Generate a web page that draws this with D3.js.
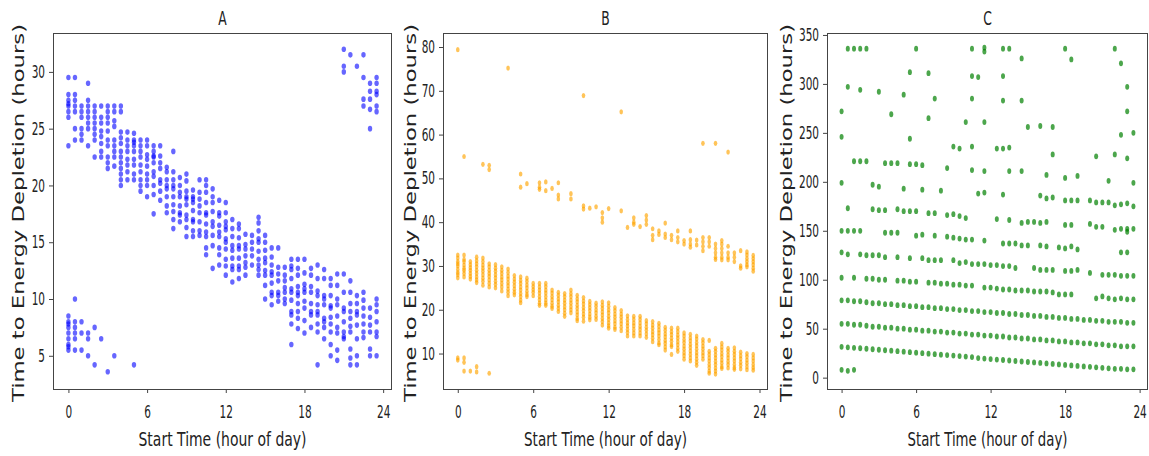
<!DOCTYPE html>
<html>
<head>
<meta charset="utf-8">
<script src="https://cdn.jsdelivr.net/npm/d3@7"></script>
<style>
  body { margin: 0; background: #fff; }
  svg { display: block; }
  text { font-family: "DejaVu Sans", sans-serif; fill: #222; }
</style>
</head>
<body>
<svg id="chart" width="1149" height="456"></svg>
<script>
// start hour of each column of points (half-hour slots)
const startHours = [0, 0.5, 1, 1.5, 2, 2.5, 3, 3.5, 4, 4.5, 5, 5.5, 6, 6.5, 7, 7.5,
    8, 8.5, 9, 9.5, 10, 10.5, 11, 11.5, 12, 12.5, 13, 13.5, 14, 14.5, 15, 15.5,
    16, 16.5, 17, 17.5, 18, 18.5, 19, 19.5, 20, 20.5, 21, 21.5, 22, 22.5, 23, 23.5];

const hourTicks = [0, 6, 12, 18, 24];
const ticksA = [5, 10, 15, 20, 25, 30];
const ticksB = [10, 20, 30, 40, 50, 60, 70, 80];
const ticksC = [0, 50, 100, 150, 200, 250, 300, 350];
const titles = ["A", "B", "C"];

// time to energy depletion (hours), one list per start-hour column
const depletionA = [
    [29.5, 28, 27.5, 27.2, 27, 26.5, 26, 23.5, 8.5, 8, 7.8, 7.5, 7, 6.5, 6, 5.8, 5.5],
    [29.5, 28, 27.5, 27, 26.5, 25, 24, 10, 8, 7.5, 7, 6.5, 5.5],
    [27, 26.5, 26, 25, 24.5, 24, 8, 7, 5.5],
    [29, 27.5, 27, 26.5, 26, 25.5, 25, 23.5, 7, 6.5, 5],
    [27, 26.5, 26, 25.5, 25, 24.5, 24, 22.5, 7.5, 4.2],
    [27, 26, 25.5, 24.8, 24.3, 23.7, 23, 22.5, 6.5],
    [27, 26.5, 26, 25.5, 24.8, 24, 23.5, 22.5, 22, 21.5, 3.6],
    [27, 26.5, 25.7, 25.2, 24, 23.5, 23, 22.5, 21.7, 5],
    [27, 26.5, 24.7, 24.2, 23.7, 23, 22.5, 22, 21.5, 21, 20.5, 20],
    [24.7, 24, 23.5, 23, 22.3, 21.8, 21.2, 20.5],
    [24.6, 24, 23.8, 23.5, 23, 22.3, 21.8, 21, 20.5, 4.2],
    [24, 23.5, 23, 22.5, 21.8, 21.2, 20.5, 20, 19.5],
    [24, 23.5, 22.7, 22.3, 21.7, 21, 20.5, 20, 19],
    [23.5, 23, 22.6, 22.5, 22, 21.2, 20.8, 20, 19.2, 17.5],
    [23.5, 22.6, 22, 21.5, 20.5, 20.2, 19.5, 18.7],
    [21.6, 21.2, 20.5, 20, 19.7, 19, 18.2, 17.6],
    [23, 21.2, 20.5, 20, 19.7, 19, 18.3, 17.7, 17, 16.2],
    [20.7, 20, 19.4, 19, 18.2, 17.6, 17.4, 16.8],
    [21, 20.4, 19.5, 19, 18.8, 18.3, 17.4, 17, 16.3, 15.5],
    [19.6, 19, 18.8, 18.5, 17.8, 17, 16.8, 16, 15.5],
    [20.5, 19.4, 18.8, 18.2, 17.6, 16.8, 16, 15.6],
    [20.5, 20, 19.4, 18.5, 17.6, 17.4, 16.6, 15.9, 15.5, 14.5, 13.9],
    [19.7, 19, 18.5, 17.7, 16.8, 16.4, 15.6, 14.7, 12.7],
    [18.7, 17.6, 17.3, 16.5, 15.9, 15.5, 14.5, 13.9, 13],
    [18.5, 17.6, 16.8, 16.4, 16.1, 15.3, 15, 14.4, 13.5, 12.9, 12.1],
    [17, 16.2, 15.5, 14.7, 14.3, 13.6, 12.9, 12.6, 11.5],
    [16.6, 16.2, 15.4, 14.7, 14.4, 13.6, 12.9, 12.6, 11.8],
    [15.7, 14.8, 14.4, 13.8, 13.2, 12.8, 12.1],
    [15.6, 15, 14.4, 13.8, 13],
    [17.2, 16.7, 16, 15.3, 15, 14.2, 13.5, 13, 12.6, 12.1],
    [15.6, 15, 14.3, 13.6, 13.2, 12.5, 12.1, 11.2, 10],
    [14.5, 13.7, 13, 12.4, 12.1, 11.4, 10.6, 10.3, 9.5],
    [14.5, 12.8, 12.2, 11.6, 10.6, 10.3, 9.8],
    [12.8, 12.1, 11.6, 11, 10.6, 10, 9.6],
    [13.5, 12.9, 12.6, 11.8, 10.9, 10.6, 9.9, 8.9, 8.6, 7.8, 6],
    [13.5, 12.7, 12.1, 11.1, 10.6, 10.3, 9.6, 8.9, 8.3, 7.4],
    [13.5, 12.3, 11.3, 10.9, 10.6, 9.8, 9.2, 8.1, 7],
    [12.7, 12.1, 11.1, 10.6, 9.6, 8.9, 8.6, 7.5],
    [13, 11.8, 10.7, 10.3, 9.5, 8.9, 8.6, 7.8, 7.1, 4.2],
    [12.6, 11.8, 10.3, 10, 9.5, 8.3, 8, 7.5, 6.5],
    [11.8, 11.2, 10.3, 9.4, 9.2, 8.4, 7.8, 7.1, 6, 5],
    [12.2, 11.2, 10, 9.5, 8.5, 7.5, 7, 5.5, 4.6],
    [32, 30.5, 30, 12.2, 10.6, 9.2, 8.9, 8, 7.1, 6.7, 6.5],
    [31.5, 11.6, 10.6, 9.6, 8.9, 8.3, 7.6, 7.1, 5.6, 4.8, 4.2],
    [30.5, 10.3, 9.6, 8.9, 8.6, 7.7, 6.5, 5, 4.2],
    [31.5, 29.5, 27.6, 27, 10.6, 9.9, 9.2, 8.5, 7.8, 7.1, 6.6],
    [29, 28.3, 27.6, 26.7, 25, 9.2, 8.4, 7.7, 7.1, 5.6, 5],
    [29.5, 29, 28.3, 28, 27, 26.5, 10, 9.5, 8.9, 8, 7.1, 6.7, 5]
];

const depletionB = [
    [32.5, 31.8, 31, 30.5, 30, 29.2, 28.5, 28, 27.3, 79.4, 9, 8.5],
    [32.5, 31.5, 31, 30.2, 29.5, 29, 28.3, 27.5, 55, 9, 8, 6],
    [31, 30.3, 29.6, 29, 28.3, 27.6, 27, 6],
    [32, 31.2, 30.5, 29.8, 29, 28.3, 27.5, 26.8, 26.2, 7, 5.8],
    [31.8, 31, 30.2, 29.5, 28.8, 28, 27.2, 26.5, 25.6, 53.2],
    [30.5, 29.8, 29, 28.3, 27.6, 26.8, 26, 25.2, 53, 52, 5.5],
    [30.3, 29.5, 28.8, 28, 27.3, 26.5, 25.8, 25],
    [29.8, 29, 28.3, 27.5, 26.8, 26, 25.2, 24.3],
    [29.3, 28.5, 27.7, 27, 26.2, 25.5, 24.7, 24, 23.2, 75.2],
    [27.8, 27, 26.3, 25.5, 24.7, 24, 23.4],
    [27.5, 26.7, 26, 25.2, 24.5, 23.7, 23, 22.2, 21.6, 51, 48],
    [27.2, 26.5, 25.7, 25, 24.2, 23.5, 23, 48.8],
    [26, 25.3, 24.6, 24, 23.2],
    [26, 25.2, 24.5, 23.8, 23, 22.3, 21.5, 21, 49, 48, 47.5],
    [26, 25.3, 24.5, 23.8, 23, 22.2, 21.5, 21, 49.2, 47.2],
    [24.5, 23.8, 23, 22.3, 21.5, 20.8, 20.3, 47.7],
    [24, 23.3, 22.5, 21.8, 21, 20.3, 19.6, 49, 46.2, 45.3],
    [23.7, 23, 22.2, 21.5, 20.7, 20, 19.2, 18.5],
    [24.5, 23.7, 23, 22.2, 21.5, 20.7, 20, 19.3, 46.5, 45.3],
    [23.3, 22.5, 21.8, 21, 20.3, 19.5, 18.8, 18, 17.5],
    [22.8, 22, 21.3, 20.5, 19.8, 19, 18.3, 17.4, 68.9, 43.7, 43],
    [21.9, 21.2, 20.5, 19.8, 19, 18.3, 17.7, 43.2],
    [21.5, 20.8, 20, 19.3, 18.5, 17.8, 43.5],
    [21.8, 21, 20.3, 19.5, 18.8, 18, 17.3, 16.5, 42.2, 41, 40],
    [21.6, 20.8, 20, 19.3, 18.5, 17.8, 17, 16.3, 15.8, 43.1],
    [20.5, 19.8, 19, 18.3, 17.5, 16.8, 16, 15.5],
    [19.8, 19, 18.3, 17.5, 16.8, 16, 15.2, 65.2, 42.6],
    [18.6, 17.8, 17, 16.3, 15.5, 14.8, 14, 38.8],
    [18.5, 17.8, 17, 16.3, 15.5, 14.7, 14, 41, 40, 39.5],
    [18.5, 17.8, 17, 16.2, 15.5, 14.7, 14, 39],
    [17.5, 16.8, 16, 15.3, 14.5, 13.7, 41.5, 40.5, 39.5],
    [17.3, 16.5, 15.8, 15, 14.3, 13.5, 12.7, 38.5, 37, 36],
    [16.9, 16.2, 15.4, 14.7, 14, 13.2, 12.4, 12, 38, 37.2],
    [16, 15.3, 14.5, 13.8, 13, 12.3, 11.5, 10.8, 39.8, 37.3, 36.5],
    [15.8, 15, 14.3, 13.5, 12.8, 12, 11.6, 9.8, 37, 36],
    [15.8, 15, 14.2, 13.5, 12.7, 12, 11.2, 10.5, 38, 36.5, 35.5],
    [14.7, 14, 13.2, 12.5, 11.7, 11, 10.2, 9.5, 8.7, 35.8, 35],
    [14.4, 13.6, 12.9, 12.1, 11.4, 10.6, 9.8, 9, 8.3, 38, 36, 35, 34.3],
    [14, 13.3, 12.5, 11.8, 11, 10.2, 9.5, 8.7, 8, 7.3, 35.9, 34.8],
    [13.2, 12.5, 11.7, 11, 10.2, 9.5, 8.7, 58, 36.5, 35.5, 34.5, 33.5],
    [13, 10.5, 9.8, 9, 8.3, 7.5, 6.8, 6, 5.5, 36.5, 35.5, 34.5],
    [11.2, 10.5, 9.7, 9, 8.2, 7.5, 6.7, 6, 5.3, 58, 35, 34, 33, 32, 31.5],
    [12.3, 11.5, 10.8, 10, 9.3, 8.5, 7.8, 7, 6.6, 35.8, 35, 34, 33, 32, 31.4],
    [11.2, 10.5, 9.7, 9, 8.2, 7.5, 6.7, 56, 34.5, 33, 32, 31.4],
    [11.3, 10.5, 9.8, 9, 8.3, 7.5, 6.8, 6.4, 33, 32, 31],
    [10.3, 9.5, 8.8, 8, 7.3, 6.5, 33.5, 30, 29.5],
    [10, 9.3, 8.5, 7.8, 7, 6.3, 33.2, 32.5, 31.7, 31, 30.3, 29.8],
    [9.8, 9, 8.3, 7.5, 6.8, 6.2, 32.4, 31.7, 31, 30.3, 29.5, 28.8]
];

const depletionC = [
    [31.5, 55, 79, 102, 8, 128, 150, 199, 246, 272],
    [31, 55, 79, 7, 126, 150, 173, 297, 336],
    [30.5, 54, 78, 102, 8, 150, 221, 336],
    [30, 54, 78, 126, 150, 221, 294, 336],
    [29.5, 53, 77, 101, 125, 221, 336],
    [29, 52, 76, 101, 125, 172, 197],
    [28.5, 52, 76, 100, 125, 171, 195, 292],
    [28, 51, 75, 100, 123, 148, 171, 219],
    [27.5, 51, 75, 148, 219, 269],
    [27, 50, 74, 99, 123, 148, 172, 219],
    [26.5, 50, 74, 99, 170, 193, 289],
    [26, 49, 73, 98, 122, 170, 218, 244, 312],
    [25.5, 49, 73, 98, 145, 170, 218, 336],
    [25, 48, 72, 122, 146, 192, 217],
    [24.5, 48, 72, 97, 120, 168, 265, 311],
    [24, 47, 71, 97, 120, 145, 168, 285],
    [23.5, 47, 71, 96, 120, 191],
    [23, 46, 70, 96, 144, 166, 214],
    [22.5, 46, 70, 95, 120, 143, 167, 236],
    [22, 45, 69, 95, 117, 142, 165, 234],
    [21.5, 45, 69, 94, 118, 141, 163, 261],
    [21, 44, 68, 94, 116, 141, 212, 236, 285, 308, 336],
    [20, 44, 68, 116, 188, 307],
    [19.5, 43, 67, 92, 116, 140, 189, 211, 261, 333, 337],
    [19, 43, 67, 92, 115],
    [18.5, 42, 66, 91, 115, 162, 234],
    [18, 42, 66, 90, 114, 137, 187, 234, 283, 308, 336],
    [17.5, 41, 65, 90, 114, 137, 161, 211, 235, 336],
    [17, 41, 65, 89, 112, 137],
    [16.5, 40, 64, 89, 135, 158, 211, 283, 326],
    [16, 40, 64, 89, 135, 159, 256],
    [15.5, 39, 63, 88, 112, 159],
    [15, 39, 63, 88, 110, 135, 158, 186, 257],
    [14.5, 38, 62, 88, 110, 134, 159, 183, 207],
    [14, 38, 62, 87, 110, 184, 228, 256],
    [13.5, 37, 61, 85, 133],
    [13, 37, 61, 85, 109, 132, 156, 181, 204, 336],
    [12.5, 36, 60, 85, 109, 134, 156, 181, 325],
    [12, 36, 60, 110, 131, 181, 206],
    [11.5, 35, 59],
    [11, 35, 59, 107, 157, 181],
    [10.5, 34, 58, 81, 154, 179, 226],
    [10, 34, 58, 83, 105, 154, 179],
    [9.5, 33, 57, 81, 105, 179, 201],
    [9, 33, 57, 80, 105, 151, 176, 228, 336],
    [9, 32, 57, 81, 104, 128, 152, 177, 248, 321],
    [8.5, 32, 56, 80, 104, 128, 149, 152, 178, 224, 272, 297],
    [8.5, 32, 56, 80, 104, 152, 175, 199, 250]
];

// layout
const plotTop = 33, plotBottom = 389;
const squeeze = 0.6; // the picture is compressed horizontally
const hourDomain = [-1.175, 24.675];

const panels = [
    { title: titles[0], values: depletionA, ticks: ticksA, yDomain: [2.075, 33.425],
      left: 53, right: 392, color: "blue", alpha: 0.6, rx: 2.2, ry: 2.8,
      ylabelX: 24, xlabelWidth: 168 },
    { title: titles[1], values: depletionB, ticks: ticksB, yDomain: [1.9, 83.2],
      left: 443, right: 768, color: "orange", alpha: 0.65, rx: 1.8, ry: 2.6,
      ylabelX: 416, xlabelWidth: 163 },
    { title: titles[2], values: depletionC, ticks: ticksC, yDomain: [-11.6, 352],
      left: 827, right: 1148, color: "green", alpha: 0.7, rx: 2, ry: 2.9,
      ylabelX: 792, xlabelWidth: 160 }
];

function drawPanel(svg, p) {
    const x = d3.scaleLinear().domain(hourDomain).range([p.left, p.right]);
    const y = d3.scaleLinear().domain(p.yDomain).range([plotBottom, plotTop]);
    const g = svg.append("g");

    const points = p.values.flatMap((col, i) => col.map(v => [startHours[i], v]));
    g.append("g")
        .selectAll("ellipse")
        .data(points)
        .join("ellipse")
        .attr("cx", d => x(d[0]))
        .attr("cy", d => y(d[1]))
        .attr("rx", p.rx)
        .attr("ry", p.ry)
        .attr("fill", p.color)
        .attr("fill-opacity", p.alpha);

    g.append("rect")
        .attr("x", p.left + 0.5)
        .attr("y", plotTop + 0.5)
        .attr("width", p.right - p.left - 1)
        .attr("height", plotBottom - plotTop)
        .attr("fill", "none")
        .attr("stroke", "#444")
        .attr("stroke-width", 1);

    const xAxis = g.append("g")
        .attr("transform", `translate(0,${plotBottom})`)
        .call(d3.axisBottom(x).tickValues(hourTicks).tickSize(4).tickSizeOuter(0).tickPadding(13));
    const yAxis = g.append("g")
        .attr("transform", `translate(${p.left},0)`)
        .call(d3.axisLeft(y).tickValues(p.ticks).tickSize(4).tickSizeOuter(0).tickPadding(9.3));

    for (const axis of [xAxis, yAxis]) {
        axis.select(".domain").remove();
        axis.selectAll("line").attr("stroke", "#444");
        axis.selectAll("text")
            .attr("font-size", 17.5)
            .attr("font-family", "DejaVu Sans")
            .attr("fill", "#222")
            .attr("transform", `scale(${squeeze},1)`);
    }

    const cx = (p.left + p.right) / 2;
    svg.append("text")
        .attr("transform", `translate(${cx},25) scale(0.65,1)`)
        .attr("text-anchor", "middle")
        .attr("font-size", 19)
        .text(p.title);

    svg.append("text")
        .attr("transform", `translate(${cx},446)`)
        .attr("text-anchor", "middle")
        .attr("font-size", 20)
        .attr("textLength", p.xlabelWidth)
        .attr("lengthAdjust", "spacingAndGlyphs")
        .text("Start Time (hour of day)");

    svg.append("text")
        .attr("transform", `translate(${p.ylabelX},213) rotate(-90) scale(1,0.72)`)
        .attr("text-anchor", "middle")
        .attr("font-size", 22.5)
        .attr("textLength", 378)
        .attr("lengthAdjust", "spacingAndGlyphs")
        .text("Time to Energy Depletion (hours)");
}

const svg = d3.select("#chart");
panels.forEach(p => drawPanel(svg, p));
</script>
</body>
</html>
